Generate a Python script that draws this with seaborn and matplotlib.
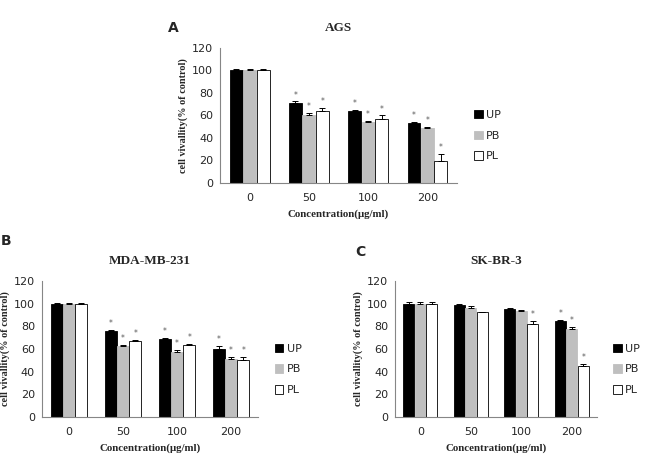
import numpy as np
import pandas as pd
import seaborn as sns
import matplotlib.pyplot as plt
from matplotlib.patches import Patch

# x categories and series
conc = ['0', '50', '100', '200']
groups = ['UP', 'PB', 'PL']

# AGS
ags_up = [100, 71, 63.5, 53]
ags_pb = [100, 60, 54, 48.5]
ags_pl = [100, 64, 56.5, 19.5]
ags_up_err = [1, 1.5, 1.5, 1]
ags_pb_err = [1, 2, 1, 1.5]
ags_pl_err = [1, 3, 3.5, 6]
ags_star = [[0, 1, 1, 1], [0, 1, 1, 1], [0, 1, 1, 1]]

# MDA-MB-231
mda_up = [99.5, 76, 68.5, 60]
mda_pb = [100, 62.5, 57.5, 51]
mda_pl = [100, 67, 63.5, 50]
mda_up_err = [1, 1, 1.5, 3]
mda_pb_err = [1, 1, 2, 2]
mda_pl_err = [0.5, 1, 1, 3]
mda_star = [[0, 1, 1, 1], [0, 1, 1, 1], [0, 1, 1, 1]]

# SK-BR-3
sk_up = [99.5, 98.5, 95, 85]
sk_pb = [99.5, 96, 93.5, 77.5]
sk_pl = [100, 92.5, 82.5, 45]
sk_up_err = [2, 1, 1, 1]
sk_pb_err = [2, 2, 1, 2]
sk_pl_err = [1.5, 0.3, 2.5, 2]
sk_star = [[0, 0, 0, 1], [0, 0, 0, 1], [0, 0, 1, 1]]

colors = {'UP': 'black', 'PB': '#bfbfbf', 'PL': 'white'}
serif = 'Liberation Serif'


def make_df(up, pb, pl):
    rows = []
    for g, vals in zip(groups, [up, pb, pl]):
        for c, v in zip(conc, vals):
            rows.append({'conc': c, 'group': g, 'value': v})
    return pd.DataFrame(rows)


def panel(fig, rect, letter, letter_pos, title, vals, errs, stars):
    ax = fig.add_axes(rect)
    df = make_df(*vals)
    sns.barplot(data=df, x='conc', y='value', hue='group', order=conc,
                hue_order=groups, palette=colors, width=0.68, gap=0.04,
                errorbar=None, legend=False, ax=ax)
    for cont, g, err, st in zip(ax.containers, groups, errs, stars):
        for bar, e, s in zip(cont, err, st):
            bar.set_edgecolor('black' if g != 'PB' else '#bfbfbf')
            bar.set_linewidth(0.6)
            x = bar.get_x() + bar.get_width() / 2
            h = bar.get_height()
            ax.errorbar(x, h, yerr=[[0], [e]], fmt='none', ecolor='black',
                        elinewidth=0.7, capsize=2, capthick=0.7)
            if s:
                ax.text(x, h + e + 1.5, '*', ha='center', va='bottom',
                        fontsize=5.5, color='#555555')
    ax.set_ylim(0, 120)
    ax.set_xlim(-0.5, 3.5)
    ax.set_yticks(range(0, 121, 20))
    ax.set_xticks(range(4))
    ax.set_xticklabels(conc)
    ax.set_xticks([-0.5, 0.5, 1.5, 2.5, 3.5], minor=True)
    ax.tick_params(axis='x', which='major', length=0, pad=7, labelsize=8)
    ax.tick_params(axis='x', which='minor', length=3, color='#868686')
    ax.tick_params(axis='y', length=3, color='#868686', labelsize=8, pad=2)
    for side in ['top', 'right']:
        ax.spines[side].set_visible(False)
    for side in ['left', 'bottom']:
        ax.spines[side].set_color('#868686')
        ax.spines[side].set_linewidth(0.8)
    ax.set_xlabel('Concentration(\u03bcg/ml)', family=serif, fontweight='bold',
                  fontsize=7.8, labelpad=5)
    ax.set_ylabel('cell vivallity(% of control)', family=serif,
                  fontweight='bold', fontsize=7.4, labelpad=3)
    ax.set_title(title, family=serif, fontweight='bold', fontsize=9.5, pad=12)
    handles = [Patch(facecolor=colors[g], edgecolor='black' if g != 'PB' else '#bfbfbf',
                     linewidth=0.6) for g in groups]
    ax.legend(handles, groups, loc='center left', bbox_to_anchor=(1.03, 0.35),
              frameon=False, fontsize=8, handlelength=0.8, handleheight=0.8,
              handletextpad=0.3, labelspacing=0.95)
    fig.text(letter_pos[0] / 651, 1 - letter_pos[1] / 457, letter,
             fontsize=10, fontweight='bold', ha='center', va='center')
    return ax


sns.set_style('white')
fig = plt.figure(figsize=(6.51, 4.57), dpi=100)

panel(fig, [0.338, 0.600, 0.364, 0.295], 'A', (173, 28), 'AGS',
      [ags_up, ags_pb, ags_pl], [ags_up_err, ags_pb_err, ags_pl_err], ags_star)
panel(fig, [0.0645, 0.0875, 0.332, 0.2976], 'B', (6, 241), 'MDA-MB-231',
      [mda_up, mda_pb, mda_pl], [mda_up_err, mda_pb_err, mda_pl_err], mda_star)
panel(fig, [0.607, 0.0875, 0.310, 0.2976], 'C', (360, 252), 'SK-BR-3',
      [sk_up, sk_pb, sk_pl], [sk_up_err, sk_pb_err, sk_pl_err], sk_star)

fig.savefig('out.png', dpi=100)
